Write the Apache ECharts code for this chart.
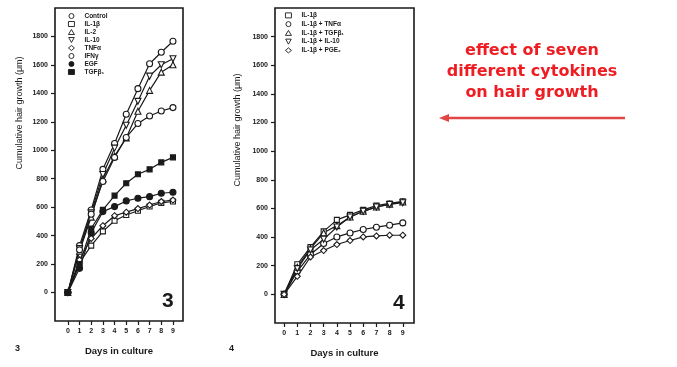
<!DOCTYPE html>
<html><head><meta charset="utf-8">
<script src="https://cdn.jsdelivr.net/npm/echarts@6/dist/echarts.min.js"></script>
<style>html,body{margin:0;padding:0;background:#fff}#c{width:677px;height:367px}</style>
</head><body><div id="c"></div>
<script>
// ---- data ----
const days = [0,1,2,3,4,5,6,7,8,9];
const yTicks = [0,200,400,600,800,1000,1200,1400,1600,1800];
// Figure 3
const control = [0, 330, 580, 866, 1048, 1253, 1433, 1608, 1689, 1766];
const il1b    = [0, 210, 330, 430, 505, 545, 575, 605, 630, 640];
const il2     = [0, 290, 530, 800, 960, 1087, 1274, 1421, 1549, 1601];
const il10    = [0, 310, 560, 830, 1015, 1176, 1344, 1521, 1601, 1643];
const tnfa    = [0, 230, 380, 470, 540, 565, 590, 615, 640, 650];
const ifng    = [0, 300, 550, 780, 950, 1090, 1188, 1241, 1276, 1300];
const egf     = [0, 170, 420, 569, 604, 644, 663, 674, 698, 705];
const tgfb1   = [0, 200, 450, 581, 681, 768, 831, 866, 915, 950];
// Figure 4
const f4_il1b      = [0, 210, 330, 440, 520, 555, 590, 620, 635, 650];
const f4_il1b_tnfa = [0, 161, 278, 355, 401, 429, 453, 469, 483, 499];
const f4_il1b_tgfb = [0, 190, 320, 430, 480, 540, 580, 610, 630, 645];
const f4_il1b_il10 = [0, 180, 310, 385, 470, 540, 580, 610, 628, 640];
const f4_il1b_pge2 = [0, 126, 261, 306, 348, 376, 401, 408, 413, 413];

const names3 = ['Control','IL-1β','IL-2','IL-10','TNFα','IFNγ','EGF','TGFβ₁'];
const names4 = ['IL-1β ','IL-1β + TNFα','IL-1β + TGFβ₁','IL-1β + IL-10','IL-1β + PGE₂'];

const INV_TRI = 'path://M0,0 L10,0 L5,9 Z';
const INK = '#1a1a1a';
const FONT = 'Liberation Sans, Arial, sans-serif';

function pts(arr){ return days.map((d,i)=>[d, arr[i]]); }
function mk(name, arr, symbol, filled, g){
  return {
    type:'line', name, xAxisIndex:g, yAxisIndex:g, data:pts(arr),
    symbol, symbolSize: symbol==='rect'?5:6, showSymbol:true,
    lineStyle:{color:INK,width:1.2},
    itemStyle:{color: filled?INK:'#fff', borderColor:INK, borderWidth:1.1},
    emphasis:{disabled:true}, animation:false, z: 3
  };
}
const sym3 = ['circle','rect','triangle',INV_TRI,'diamond','circle','circle','rect'];
const fill3 = [false,false,false,false,false,false,true,true];
const data3 = [control,il1b,il2,il10,tnfa,ifng,egf,tgfb1];
const sym4 = ['rect','circle','triangle',INV_TRI,'diamond'];
const data4 = [f4_il1b,f4_il1b_tnfa,f4_il1b_tgfb,f4_il1b_il10,f4_il1b_pge2];

const series = [];
names3.forEach((n,i)=>series.push(mk(n,data3[i],sym3[i],fill3[i],0)));
names4.forEach((n,i)=>series.push(mk(n,data4[i],sym4[i],false,1)));

const tickFont = {fontFamily:FONT, fontWeight:'bold', fontSize:7, color:INK};
function xAx(g, min, max){
  return {type:'value', gridIndex:g, min, max,
    axisLine:{show:false, onZero:false},
    axisTick:{show:true, inside:false, length:4, lineStyle:{color:INK,width:1.2}, customValues: days},
    axisLabel:{...tickFont, margin:7, customValues: days, formatter: v => String(v)},
    splitLine:{show:false},
    name:'Days in culture', nameLocation:'middle', nameGap:25,
    nameTextStyle:{fontFamily:FONT, fontWeight:'bold', fontSize:9.5, color:INK}
  };
}
function yAx(g){
  return {type:'value', gridIndex:g, min:-200, max:2000, interval:200,
    axisLine:{show:false, onZero:false},
    axisTick:{show:true, inside:false, length:4, lineStyle:{color:INK,width:1.2}, customValues: yTicks},
    axisLabel:{...tickFont, margin:7, customValues: yTicks, formatter: v => String(v)},
    splitLine:{show:false}
  };
}
function legendOf(names, syms, fills, left, top, lh){
  return {orient:'vertical', left, top, itemWidth:6, itemHeight:5, itemGap:0, padding:0,
    selectedMode:false,
    textStyle:{fontFamily:FONT, fontWeight:'bold', fontSize:6.5, lineHeight:lh, color:INK, padding:[0,0,0,5]},
    data: names.map((n,i)=>({name:n, icon:syms[i],
      itemStyle:{color: fills[i]?INK:'#fff', borderColor:INK, borderWidth:0.9}}))
  };
}
const yTitle = 'Cumulative hair growth (μm)';

const chart = echarts.init(document.getElementById('c'), null, {renderer:'canvas'});
chart.setOption({
  backgroundColor:'#fff',
  animation:false,
  grid:[
    {left:55, top:8, width:128, height:313, show:true, borderColor:INK, borderWidth:1.6, backgroundColor:'transparent'},
    {left:275, top:8, width:139, height:315, show:true, borderColor:INK, borderWidth:1.6, backgroundColor:'transparent'}
  ],
  xAxis:[xAx(0,-1.1,9.86), xAx(1,-0.69,9.85)],
  yAxis:[yAx(0), yAx(1)],
  legend:[
    legendOf(names3, sym3, fill3, 68, 12, 8),
    legendOf(names4, sym4, [false,false,false,false,false], 285, 11, 8.75)
  ],
  series,
  graphic:[
    {type:'text', x:20, y:113, rotation:Math.PI/2, style:{text:yTitle, align:'center', verticalAlign:'middle', font:'9px '+FONT, fill:INK}},
    {type:'text', x:238, y:130, rotation:Math.PI/2, style:{text:yTitle, align:'center', verticalAlign:'middle', font:'9px '+FONT, fill:INK}},
    {type:'text', left:162, top:291, style:{text:'3', font:'bold 21px '+FONT, fill:INK}},
    {type:'text', left:393, top:293, style:{text:'4', font:'bold 21px '+FONT, fill:INK}},
    {type:'text', left:15, top:344, style:{text:'3', font:'bold 9px '+FONT, fill:INK}},
    {type:'text', left:229, top:344, style:{text:'4', font:'bold 9px '+FONT, fill:INK}},
    {type:'text', x:532, y:40, style:{text:'effect of seven\ndifferent cytokines\non hair growth', align:'center',
      font:'bold 16px DejaVu Sans, Verdana, sans-serif', lineHeight:21, fill:'#ee1d23'}},
    {type:'line', shape:{x1:625, y1:118, x2:446, y2:118}, style:{stroke:'#e04646', lineWidth:2.5}},
    {type:'polygon', shape:{points:[[439,118],[449,114],[449,122]]}, style:{fill:'#e04646'}}
  ]
});
</script></body></html>
